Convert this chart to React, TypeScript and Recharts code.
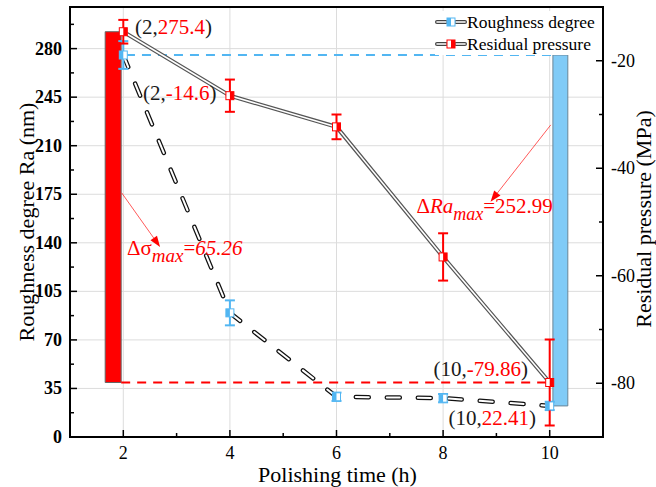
import React from "react";
import {
  CartesianGrid,
  ComposedChart,
  ErrorBar,
  Legend,
  Line,
  ReferenceArea,
  ReferenceDot,
  ReferenceLine,
  XAxis,
  YAxis,
} from "recharts";

const FONT = "Liberation Serif";
const RED = "#ff0000";
const BLUE = "#52b6f2";
const BLUE_BAR = "#80cbf7";

// polishing time (h)
const hours = [2, 4, 6, 8, 10];
// roughness degree Ra (nm), left axis
const roughness = [275.4, 89.5, 29, 28, 22.41];
const roughnessErr = [10, 9, 3, 3, 3];
// residual pressure (MPa), right axis
const pressure = [-14.6, -26.5, -32.3, -56.5, -79.86];
const pressureErr = [2.2, 3, 2.3, 4.4, 8];

const xTicks = [2, 3, 4, 5, 6, 7, 8, 9, 10];
const xLabels = [2, 4, 6, 8, 10];
const leftTicks = [0, 17.5, 35, 52.5, 70, 87.5, 105, 122.5, 140, 157.5, 175, 192.5, 210, 227.5, 245, 262.5, 280, 297.5];
const leftLabels = [0, 35, 70, 105, 140, 175, 210, 245, 280];
const rightTicks = [-80, -70, -60, -50, -40, -30, -20];
const rightLabels = [-80, -60, -40, -20];

const data = hours.map((h, i) => ({
  h,
  ra: roughness[i],
  raErr: roughnessErr[i],
  p: pressure[i],
  pErr: pressureErr[i],
}));

const raMax = Math.max(...roughness);
const raMin = Math.min(...roughness);
const pMax = Math.max(...pressure);
const pMin = Math.min(...pressure);

const HalfSquare = ({ cx, cy, color, side }: any) => (
  <g>
    <rect x={cx - 4} y={cy - 4} width={8} height={8} fill="#fff" stroke={color} strokeWidth={1} />
    <rect x={side === "left" ? cx - 4 : cx} y={cy - 4} width={4} height={8} fill={color} />
  </g>
);

const XTick = ({ x, y, payload }: any) => {
  const major = xLabels.includes(payload.value);
  return (
    <g>
      <line x1={x} x2={x} y1={y} y2={y - (major ? 7 : 4)} stroke="#000" strokeWidth={1.5} />
      {major && (
        <text x={x} y={y + 22} textAnchor="middle" fontSize={18} fontFamily={FONT} fill="#000">
          {payload.value}
        </text>
      )}
    </g>
  );
};

const LeftTick = ({ x, y, payload }: any) => {
  const major = leftLabels.includes(payload.value);
  return (
    <g>
      <line x1={x} x2={x + (major ? 7 : 4)} y1={y} y2={y} stroke="#000" strokeWidth={1.5} />
      {major && (
        <text x={x - 8} y={y + 6} textAnchor="end" fontSize={18} fontWeight="bold" fontFamily={FONT} fill="#000">
          {payload.value}
        </text>
      )}
    </g>
  );
};

const RightTick = ({ x, y, payload }: any) => {
  const major = rightLabels.includes(payload.value);
  return (
    <g>
      <line x1={x} x2={x - (major ? 7 : 4)} y1={y} y2={y} stroke="#000" strokeWidth={1.5} />
      {major && (
        <text x={x + 8} y={y + 6} textAnchor="start" fontSize={18} fontFamily={FONT} fill="#000">
          {payload.value}
        </text>
      )}
    </g>
  );
};

const Arrow = ({ x1, y1, x2, y2 }: any) => {
  const a = Math.atan2(y2 - y1, x2 - x1);
  const L = 11;
  const W = 4;
  const bx = x2 - L * Math.cos(a);
  const by = y2 - L * Math.sin(a);
  const px = -Math.sin(a) * W;
  const py = Math.cos(a) * W;
  return (
    <g>
      <line x1={x1} y1={y1} x2={bx} y2={by} stroke="#ff3030" strokeWidth={0.8} />
      <polygon points={`${x2},${y2} ${bx + px},${by + py} ${bx - px},${by - py}`} fill={RED} />
    </g>
  );
};

const note = (children: React.ReactNode) => ({ cx, cy }: any) => (
  <text x={cx} y={cy} fontSize={21} fontFamily={FONT} fill="#1a1a1a">
    {children}
  </text>
);

const Swatch = ({ color, side }: { color: string; side: string }) => (
  <svg width={32} height={12} style={{ display: "block" }}>
    <line x1={2} x2={11} y1={6} y2={6} stroke="#444" strokeWidth={4} strokeLinecap="round" />
    <line x1={2} x2={11} y1={6} y2={6} stroke="#fff" strokeWidth={1.6} strokeLinecap="round" />
    <line x1={21} x2={30} y1={6} y2={6} stroke="#444" strokeWidth={4} strokeLinecap="round" />
    <line x1={21} x2={30} y1={6} y2={6} stroke="#fff" strokeWidth={1.6} strokeLinecap="round" />
    <HalfSquare cx={16} cy={6} color={color} side={side} />
  </svg>
);

const LegendBox = () => (
  <div style={{ background: "#fff", fontFamily: FONT, fontSize: 17.5, color: "#000", lineHeight: "22px" }}>
    <div style={{ display: "flex", alignItems: "center" }}>
      <Swatch color={BLUE} side="left" />
      <span>Roughness degree</span>
    </div>
    <div style={{ display: "flex", alignItems: "center" }}>
      <Swatch color={RED} side="right" />
      <span>Residual pressure</span>
    </div>
  </div>
);

export default function App() {
  return (
    <div style={{ position: "absolute", left: 0, top: 0, width: 656, height: 487, background: "#fff", fontFamily: FONT }}>
      <ComposedChart
        width={656}
        height={487}
        data={data}
        margin={{ top: 7, right: 0, bottom: 0, left: 0 }}
      >
        <CartesianGrid horizontalValues={leftLabels} verticalValues={xLabels} stroke="#dcdcdc" strokeWidth={1} />
        <XAxis
          dataKey="h"
          type="number"
          domain={[1, 11]}
          ticks={xTicks}
          interval={0}
          height={50}
          tickSize={0}
          tickMargin={0}
          tickLine={false}
          axisLine={{ stroke: "#000", strokeWidth: 2 }}
          tick={<XTick />}
          label={{
            content: ({ viewBox }: any) => (
              <text x={viewBox.x + viewBox.width / 2 + 1} y={viewBox.y + 45} textAnchor="middle" fontSize={22} fontFamily={FONT} fill="#000">
                Polishing time (h)
              </text>
            ),
          }}
        />
        <YAxis
          type="number"
          domain={[0, 310]}
          ticks={leftTicks}
          interval={0}
          width={70}
          tickSize={0}
          tickMargin={0}
          tickLine={false}
          axisLine={{ stroke: "#000", strokeWidth: 2 }}
          tick={<LeftTick />}
          label={{
            content: ({ viewBox }: any) => {
              const cx = viewBox.x + 34;
              const cy = viewBox.y + viewBox.height / 2;
              return (
                <text x={cx} y={cy} transform={`rotate(-90, ${cx}, ${cy})`} textAnchor="middle" fontSize={22} fontFamily={FONT} fill="#000">
                  Roughness degree Ra (nm)
                </text>
              );
            },
          }}
        />
        <YAxis
          yAxisId="right"
          orientation="right"
          type="number"
          domain={[-90, -10]}
          ticks={rightTicks}
          interval={0}
          width={53}
          tickSize={0}
          tickMargin={0}
          tickLine={false}
          axisLine={{ stroke: "#000", strokeWidth: 2 }}
          tick={<RightTick />}
          label={{
            content: ({ viewBox }: any) => {
              const cx = viewBox.x + 48;
              const cy = viewBox.y + viewBox.height / 2 - 3;
              return (
                <text x={cx} y={cy} transform={`rotate(-90, ${cx}, ${cy})`} textAnchor="middle" fontSize={22} fontFamily={FONT} fill="#000">
                  Residual pressure (MPa)
                </text>
              );
            },
          }}
        />
        <Legend
          layout="vertical"
          align="center"
          verticalAlign="middle"
          content={<LegendBox />}
          wrapperStyle={{ left: 435, top: 11, width: 167 }}
        />

        {/* range bars */}
        <ReferenceArea yAxisId="right" x1={1.66} x2={1.96} y1={pMin} y2={pMax} fill={RED} fillOpacity={1} stroke="#666" strokeWidth={1} />
        <ReferenceArea x1={10.06} x2={10.34} y1={raMin} y2={raMax} fill={BLUE_BAR} fillOpacity={1} stroke="#6a8596" strokeWidth={1} />
        <ReferenceLine segment={[{ x: 2.05, y: raMax }, { x: 10.06, y: raMax }]} stroke={BLUE} strokeWidth={2} strokeDasharray="9 7" />
        <ReferenceLine yAxisId="right" segment={[{ x: 1.96, y: pMin }, { x: 9.95, y: pMin }]} stroke={RED} strokeWidth={2} strokeDasharray="9 7" />

        {/* arrows */}
        <ReferenceLine segment={[{ x: 1.97, y: 176 }, { x: 2.69, y: 137 }]} shape={<Arrow />} />
        <ReferenceLine segment={[{ x: 10.02, y: 225 }, { x: 8.89, y: 169.6 }]} shape={<Arrow />} />

        {/* roughness: dashed double line */}
        <Line
          dataKey="ra"
          type="linear"
          stroke="#111"
          strokeWidth={4.5}
          strokeDasharray="13 18"
          strokeLinecap="round"
          dot={false}
          activeDot={false}
          legendType="none"
          isAnimationActive={false}
        />
        <Line
          dataKey="ra"
          type="linear"
          stroke="#fff"
          strokeWidth={2}
          strokeDasharray="13 18"
          strokeLinecap="round"
          dot={(p: any) => <HalfSquare key={`ra${p.index}`} cx={p.cx} cy={p.cy} color={BLUE} side="left" />}
          activeDot={false}
          legendType="none"
          isAnimationActive={false}
        >
          <ErrorBar dataKey="raErr" direction="y" width={5} stroke={BLUE} strokeWidth={2} />
        </Line>

        {/* residual pressure: solid double line */}
        <Line
          yAxisId="right"
          dataKey="p"
          type="linear"
          stroke="#555"
          strokeWidth={4}
          dot={false}
          activeDot={false}
          legendType="none"
          isAnimationActive={false}
        />
        <Line
          yAxisId="right"
          dataKey="p"
          type="linear"
          stroke="#fff"
          strokeWidth={1.6}
          dot={(p: any) => <HalfSquare key={`p${p.index}`} cx={p.cx} cy={p.cy} color={RED} side="right" />}
          activeDot={false}
          legendType="none"
          isAnimationActive={false}
        >
          <ErrorBar dataKey="pErr" direction="y" width={5} stroke={RED} strokeWidth={2} />
        </Line>

        {/* annotations */}
        <ReferenceDot x={2.22} y={290.8} shape={note(<><tspan>(2,</tspan><tspan fill={RED}>275.4</tspan><tspan>)</tspan></>)} />
        <ReferenceDot x={2.37} y={243} shape={note(<><tspan>(2,</tspan><tspan fill={RED}>-14.6</tspan><tspan>)</tspan></>)} />
        <ReferenceDot x={7.82} y={44} shape={note(<><tspan>(10,</tspan><tspan fill={RED}>-79.86</tspan><tspan>)</tspan></>)} />
        <ReferenceDot x={8.1} y={8.7} shape={note(<><tspan>(10,</tspan><tspan fill={RED}>22.41</tspan><tspan>)</tspan></>)} />
        <ReferenceDot
          x={7.5}
          y={161.6}
          shape={note(
            <>
              <tspan fill={RED}>Δ</tspan>
              <tspan fill={RED} fontStyle="italic">Ra</tspan>
              <tspan fill={RED} fontStyle="italic" fontSize={18} dy={7}>max</tspan>
              <tspan fill={RED} dy={-7}>=252.99</tspan>
            </>
          )}
        />
        <ReferenceDot
          x={2.07}
          y={131.3}
          shape={note(
            <>
              <tspan fill={RED}>Δσ</tspan>
              <tspan fill={RED} fontStyle="italic" fontSize={19} dy={7}>max</tspan>
              <tspan fill={RED} dy={-7}>=</tspan>
              <tspan fill={RED} fontStyle="italic">65.26</tspan>
            </>
          )}
        />

        {/* frame */}
        <ReferenceArea x1={1} x2={11} y1={0} y2={310} fill="none" stroke="#000" strokeWidth={2} />
      </ComposedChart>
    </div>
  );
}
